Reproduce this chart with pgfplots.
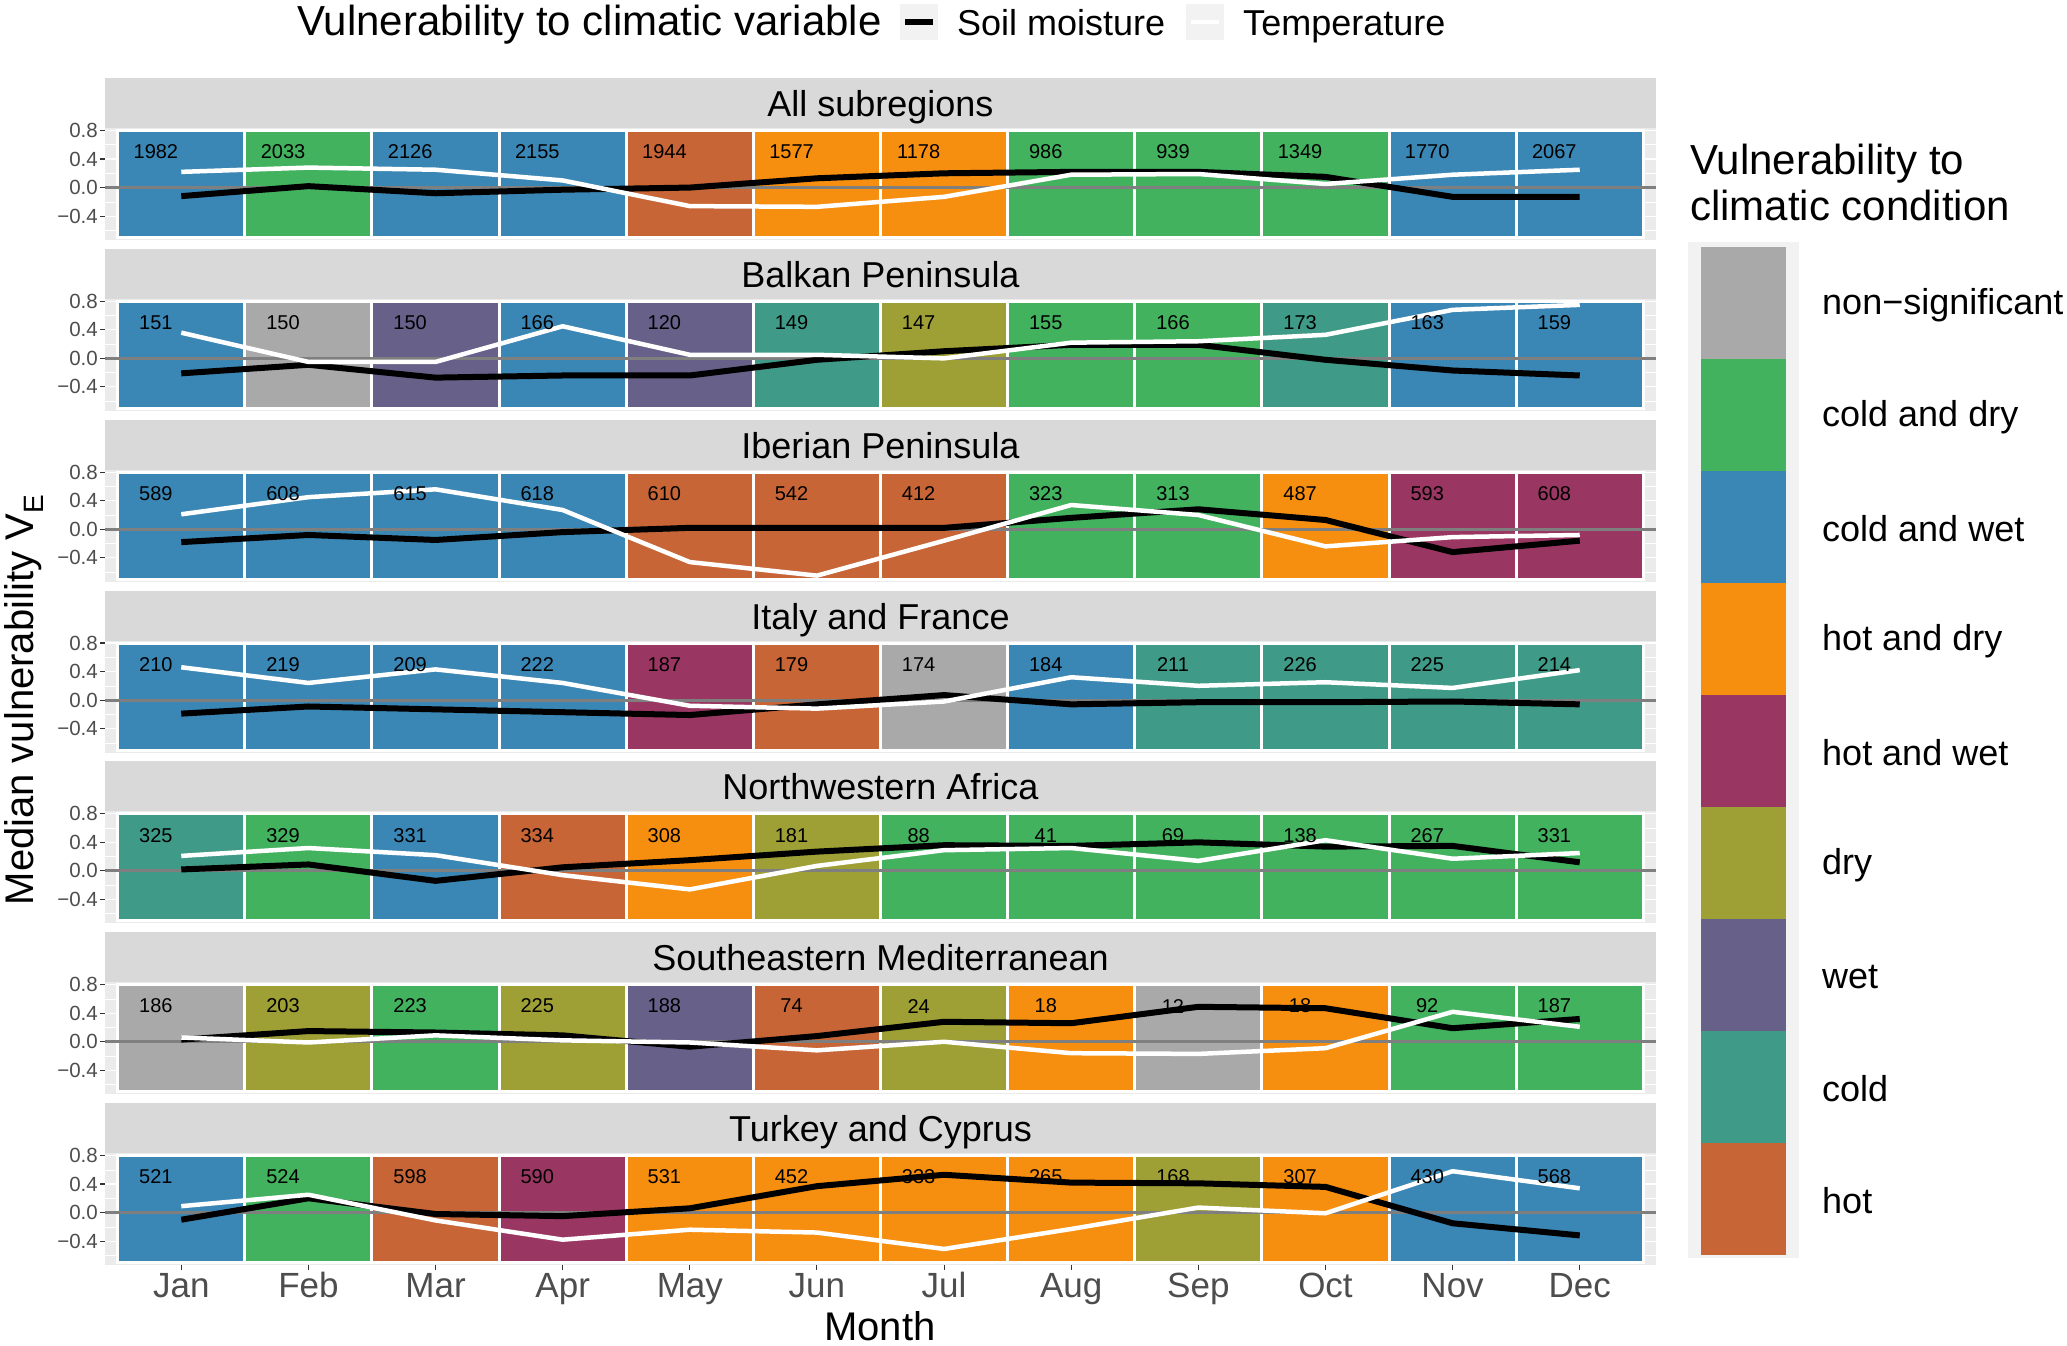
\documentclass[border=0pt]{standalone}
\usepackage{fontspec}
\setmainfont{Liberation Sans}
\usepackage{pgfplots}
\pgfplotsset{compat=1.18}

\definecolor{cnon}{HTML}{A9A9A9}
\definecolor{ccd}{HTML}{43B25E}
\definecolor{ccw}{HTML}{3A87B6}
\definecolor{chd}{HTML}{F68E0F}
\definecolor{chw}{HTML}{993762}
\definecolor{cdry}{HTML}{9EA035}
\definecolor{cwet}{HTML}{676089}
\definecolor{ccold}{HTML}{3F9B87}
\definecolor{chot}{HTML}{C76537}
\definecolor{panelbg}{HTML}{EBEBEB}
\definecolor{stripbg}{HTML}{D9D9D9}
\definecolor{ticklab}{HTML}{4D4D4D}
\definecolor{tickcol}{HTML}{333333}
\definecolor{keybg}{HTML}{F2F2F2}
\definecolor{zeroline}{HTML}{7F7F7F}

\newcommand\fs[1]{\fontsize{#1}{#1}\selectfont}
\newcommand\T[3]{\addplot[fill=#3,draw=white,line width=3pt] coordinates {(#1,-0.7) (#1,0.8) (#2,0.8) (#2,-0.7)} --cycle;}
\newcommand\Strip[1]{%
  \fill[stripbg] (rel axis cs:0,1) rectangle ([yshift=50pt]rel axis cs:1,1);
  \node[anchor=base, inner sep=0pt, font=\fs{36}] at ([yshift=11.5pt]rel axis cs:0.5,1) {#1};}
\newcommand\Zero{\addplot[zeroline, line width=3pt] coordinates {(0.4,0) (12.6,0)};}

\pgfplotsset{
  panel/.style={
    scale only axis, width=1551pt, height=112pt,
    xmin=0.4, xmax=12.6, ymin=-0.735, ymax=0.835,
    axis background/.style={fill=panelbg},
    axis line style={draw=none},
    ytick={-0.4,0,0.4,0.8}, yticklabels={−0.4,0.0,0.4,0.8},
    minor ytick={-0.6,-0.2,0.2,0.6},
    ymajorgrids, yminorgrids,
    major grid style={white, line width=1.1pt},
    minor grid style={white, line width=0.55pt},
    xtick=\empty,
    tick pos=left, tick align=outside,
    major tick length=5pt, minor tick length=0pt,
    tick style={tickcol, line width=1.1pt},
    yticklabel style={font=\fs{20.5}, text=ticklab, inner sep=2pt},
    /pgf/number format/assume math mode=true,
    clip=false,
    anchor=north west,
  },
  nums/.style={draw=none, mark=none, nodes near coords, point meta=explicit symbolic,
    every node near coord/.style={anchor=center, xshift=-25.4pt, font=\fs{20}, text=black, inner sep=0pt}},
  soil/.style={black, line width=6pt, line join=round},
  temp/.style={white, line width=4.5pt, line join=round},
}

\begin{document}
\begin{tikzpicture}

% ---------- All subregions
\begin{axis}[panel, at={(105pt,-128pt)}]
\T{0.5}{1.5}{ccw}\T{1.5}{2.5}{ccd}\T{2.5}{3.5}{ccw}\T{3.5}{4.5}{ccw}
\T{4.5}{5.5}{chot}\T{5.5}{6.5}{chd}\T{6.5}{7.5}{chd}\T{7.5}{8.5}{ccd}
\T{8.5}{9.5}{ccd}\T{9.5}{10.5}{ccd}\T{10.5}{11.5}{ccw}\T{11.5}{12.5}{ccw}
\addplot[nums] coordinates {(1,0.5)[1982] (2,0.5)[2033] (3,0.5)[2126] (4,0.5)[2155] (5,0.5)[1944] (6,0.5)[1577] (7,0.5)[1178] (8,0.5)[986] (9,0.5)[939] (10,0.5)[1349] (11,0.5)[1770] (12,0.5)[2067]};
\Zero
\addplot[soil] coordinates {(1,-0.12) (2,0.02) (3,-0.08) (4,-0.03) (5,0.0) (6,0.13) (7,0.2) (8,0.22) (9,0.22) (10,0.15) (11,-0.13) (12,-0.13)};
\addplot[temp] coordinates {(1,0.22) (2,0.28) (3,0.25) (4,0.1) (5,-0.26) (6,-0.27) (7,-0.13) (8,0.18) (9,0.19) (10,0.05) (11,0.18) (12,0.25)};
\Strip{All subregions}
\end{axis}

% ---------- Balkan Peninsula
\begin{axis}[panel, at={(105pt,-298.8pt)}]
\T{0.5}{1.5}{ccw}\T{1.5}{2.5}{cnon}\T{2.5}{3.5}{cwet}\T{3.5}{4.5}{ccw}
\T{4.5}{5.5}{cwet}\T{5.5}{6.5}{ccold}\T{6.5}{7.5}{cdry}\T{7.5}{8.5}{ccd}
\T{8.5}{9.5}{ccd}\T{9.5}{10.5}{ccold}\T{10.5}{11.5}{ccw}\T{11.5}{12.5}{ccw}
\addplot[nums] coordinates {(1,0.5)[151] (2,0.5)[150] (3,0.5)[150] (4,0.5)[166] (5,0.5)[120] (6,0.5)[149] (7,0.5)[147] (8,0.5)[155] (9,0.5)[166] (10,0.5)[173] (11,0.5)[163] (12,0.5)[159]};
\Zero
\addplot[soil] coordinates {(1,-0.21) (2,-0.09) (3,-0.27) (4,-0.24) (5,-0.24) (6,-0.02) (7,0.1) (8,0.19) (9,0.19) (10,-0.02) (11,-0.17) (12,-0.24)};
\addplot[temp] coordinates {(1,0.36) (2,-0.05) (3,-0.05) (4,0.45) (5,0.05) (6,0.05) (7,0.0) (8,0.22) (9,0.24) (10,0.33) (11,0.68) (12,0.75)};
\Strip{Balkan Peninsula}
\end{axis}

% ---------- Iberian Peninsula
\begin{axis}[panel, at={(105pt,-469.7pt)}]
\T{0.5}{1.5}{ccw}\T{1.5}{2.5}{ccw}\T{2.5}{3.5}{ccw}\T{3.5}{4.5}{ccw}
\T{4.5}{5.5}{chot}\T{5.5}{6.5}{chot}\T{6.5}{7.5}{chot}\T{7.5}{8.5}{ccd}
\T{8.5}{9.5}{ccd}\T{9.5}{10.5}{chd}\T{10.5}{11.5}{chw}\T{11.5}{12.5}{chw}
\addplot[nums] coordinates {(1,0.5)[589] (2,0.5)[608] (3,0.5)[615] (4,0.5)[618] (5,0.5)[610] (6,0.5)[542] (7,0.5)[412] (8,0.5)[323] (9,0.5)[313] (10,0.5)[487] (11,0.5)[593] (12,0.5)[608]};
\Zero
\addplot[soil] coordinates {(1,-0.18) (2,-0.08) (3,-0.15) (4,-0.04) (5,0.02) (6,0.02) (7,0.02) (8,0.16) (9,0.28) (10,0.13) (11,-0.32) (12,-0.16)};
\addplot[temp] coordinates {(1,0.21) (2,0.45) (3,0.56) (4,0.27) (5,-0.46) (6,-0.65) (7,-0.16) (8,0.34) (9,0.2) (10,-0.24) (11,-0.11) (12,-0.08)};
\Strip{Iberian Peninsula}
\end{axis}

% ---------- Italy and France
\begin{axis}[panel, at={(105pt,-640.5pt)}]
\T{0.5}{1.5}{ccw}\T{1.5}{2.5}{ccw}\T{2.5}{3.5}{ccw}\T{3.5}{4.5}{ccw}
\T{4.5}{5.5}{chw}\T{5.5}{6.5}{chot}\T{6.5}{7.5}{cnon}\T{7.5}{8.5}{ccw}
\T{8.5}{9.5}{ccold}\T{9.5}{10.5}{ccold}\T{10.5}{11.5}{ccold}\T{11.5}{12.5}{ccold}
\addplot[nums] coordinates {(1,0.5)[210] (2,0.5)[219] (3,0.5)[209] (4,0.5)[222] (5,0.5)[187] (6,0.5)[179] (7,0.5)[174] (8,0.5)[184] (9,0.5)[211] (10,0.5)[226] (11,0.5)[225] (12,0.5)[214]};
\Zero
\addplot[soil] coordinates {(1,-0.19) (2,-0.09) (3,-0.13) (4,-0.17) (5,-0.21) (6,-0.06) (7,0.07) (8,-0.06) (9,-0.03) (10,-0.03) (11,-0.02) (12,-0.06)};
\addplot[temp] coordinates {(1,0.46) (2,0.24) (3,0.43) (4,0.24) (5,-0.08) (6,-0.12) (7,-0.02) (8,0.32) (9,0.2) (10,0.25) (11,0.17) (12,0.42)};
\Strip{Italy and France}
\end{axis}

% ---------- Northwestern Africa
\begin{axis}[panel, at={(105pt,-811.3pt)}]
\T{0.5}{1.5}{ccold}\T{1.5}{2.5}{ccd}\T{2.5}{3.5}{ccw}\T{3.5}{4.5}{chot}
\T{4.5}{5.5}{chd}\T{5.5}{6.5}{cdry}\T{6.5}{7.5}{ccd}\T{7.5}{8.5}{ccd}
\T{8.5}{9.5}{ccd}\T{9.5}{10.5}{ccd}\T{10.5}{11.5}{ccd}\T{11.5}{12.5}{ccd}
\addplot[nums] coordinates {(1,0.5)[325] (2,0.5)[329] (3,0.5)[331] (4,0.5)[334] (5,0.5)[308] (6,0.5)[181] (7,0.5)[88] (8,0.5)[41] (9,0.5)[69] (10,0.5)[138] (11,0.5)[267] (12,0.5)[331]};
\Zero
\addplot[soil] coordinates {(1,0.02) (2,0.09) (3,-0.14) (4,0.05) (5,0.15) (6,0.27) (7,0.36) (8,0.35) (9,0.4) (10,0.34) (11,0.35) (12,0.12)};
\addplot[temp] coordinates {(1,0.21) (2,0.32) (3,0.22) (4,-0.06) (5,-0.26) (6,0.07) (7,0.29) (8,0.32) (9,0.14) (10,0.43) (11,0.17) (12,0.25)};
\Strip{Northwestern Africa}
\end{axis}

% ---------- Southeastern Mediterranean
\begin{axis}[panel, at={(105pt,-982.2pt)}]
\T{0.5}{1.5}{cnon}\T{1.5}{2.5}{cdry}\T{2.5}{3.5}{ccd}\T{3.5}{4.5}{cdry}
\T{4.5}{5.5}{cwet}\T{5.5}{6.5}{chot}\T{6.5}{7.5}{cdry}\T{7.5}{8.5}{chd}
\T{8.5}{9.5}{cnon}\T{9.5}{10.5}{chd}\T{10.5}{11.5}{ccd}\T{11.5}{12.5}{ccd}
\addplot[nums] coordinates {(1,0.5)[186] (2,0.5)[203] (3,0.5)[223] (4,0.5)[225] (5,0.5)[188] (6,0.5)[74] (7,0.5)[24] (8,0.5)[18] (9,0.5)[12] (10,0.5)[18] (11,0.5)[92] (12,0.5)[187]};
\Zero
\addplot[soil] coordinates {(1,0.03) (2,0.15) (3,0.13) (4,0.09) (5,-0.07) (6,0.08) (7,0.28) (8,0.26) (9,0.49) (10,0.47) (11,0.19) (12,0.32)};
\addplot[temp] coordinates {(1,0.06) (2,-0.01) (3,0.09) (4,0.02) (5,-0.01) (6,-0.12) (7,0.0) (8,-0.16) (9,-0.17) (10,-0.09) (11,0.42) (12,0.21)};
\Strip{Southeastern Mediterranean}
\end{axis}

% ---------- Turkey and Cyprus
\begin{axis}[panel, at={(105pt,-1153pt)},
  xtick={1,...,12}, xticklabels={Jan,Feb,Mar,Apr,May,Jun,Jul,Aug,Sep,Oct,Nov,Dec},
  xticklabel style={font=\fs{35}, text=ticklab, inner sep=0pt, anchor=base, yshift=-27pt}]
\T{0.5}{1.5}{ccw}\T{1.5}{2.5}{ccd}\T{2.5}{3.5}{chot}\T{3.5}{4.5}{chw}
\T{4.5}{5.5}{chd}\T{5.5}{6.5}{chd}\T{6.5}{7.5}{chd}\T{7.5}{8.5}{chd}
\T{8.5}{9.5}{cdry}\T{9.5}{10.5}{chd}\T{10.5}{11.5}{ccw}\T{11.5}{12.5}{ccw}
\addplot[nums] coordinates {(1,0.5)[521] (2,0.5)[524] (3,0.5)[598] (4,0.5)[590] (5,0.5)[531] (6,0.5)[452] (7,0.5)[333] (8,0.5)[265] (9,0.5)[168] (10,0.5)[307] (11,0.5)[430] (12,0.5)[568]};
\Zero
\addplot[soil] coordinates {(1,-0.1) (2,0.2) (3,-0.02) (4,-0.05) (5,0.06) (6,0.37) (7,0.53) (8,0.42) (9,0.41) (10,0.36) (11,-0.15) (12,-0.32)};
\addplot[temp] coordinates {(1,0.09) (2,0.25) (3,-0.11) (4,-0.38) (5,-0.24) (6,-0.28) (7,-0.51) (8,-0.23) (9,0.07) (10,-0.01) (11,0.58) (12,0.34)};
\Strip{Turkey and Cyprus}
\end{axis}

% ---------- axis titles
\node[font=\fs{40}, anchor=base] at (880pt,-1340pt) {Month};
\node[font=\fs{40}, rotate=90, anchor=base] at (33pt,-700pt) {Median vulnerability V\textsubscript{E}};

% ---------- top legend
\node[font=\fs{42}, anchor=base west, inner sep=0pt] at (297pt,-36pt) {Vulnerability to climatic variable};
\fill[keybg] (900pt,-4pt) rectangle (938pt,-40pt);
\draw[black, line width=6pt] (905pt,-22pt) -- (933pt,-22pt);
\node[font=\fs{36}, anchor=base west, inner sep=0pt] at (957pt,-36pt) {Soil moisture};
\fill[keybg] (1186pt,-4pt) rectangle (1224pt,-40pt);
\draw[white, line width=4.5pt] (1191pt,-22pt) -- (1219pt,-22pt);
\node[font=\fs{36}, anchor=base west, inner sep=0pt] at (1243pt,-36pt) {Temperature};

% ---------- right legend
\node[font=\fs{42}, anchor=base west, inner sep=0pt] at (1690pt,-174pt) {Vulnerability to};
\node[font=\fs{42}, anchor=base west, inner sep=0pt] at (1690pt,-220pt) {climatic condition};
\fill[keybg] (1688pt,-242pt) rectangle (1799pt,-1258pt);
\foreach \c/\lab [count=\i from 0] in {cnon/non−significant, ccd/cold and dry, ccw/cold and wet, chd/hot and dry, chw/hot and wet, cdry/dry, cwet/wet, ccold/cold, chot/hot}{
  \fill[\c] (1701pt,-247pt-\i*112pt) rectangle (1786pt,-247pt-\i*112pt-112pt);
  \node[font=\fs{36}, anchor=west, inner sep=0pt] at (1822pt,-249pt-\i*112pt-56pt) {\lab};
}

\pgfresetboundingbox
\path (0,0) rectangle (2067pt,-1346pt);
\end{tikzpicture}
\end{document}
